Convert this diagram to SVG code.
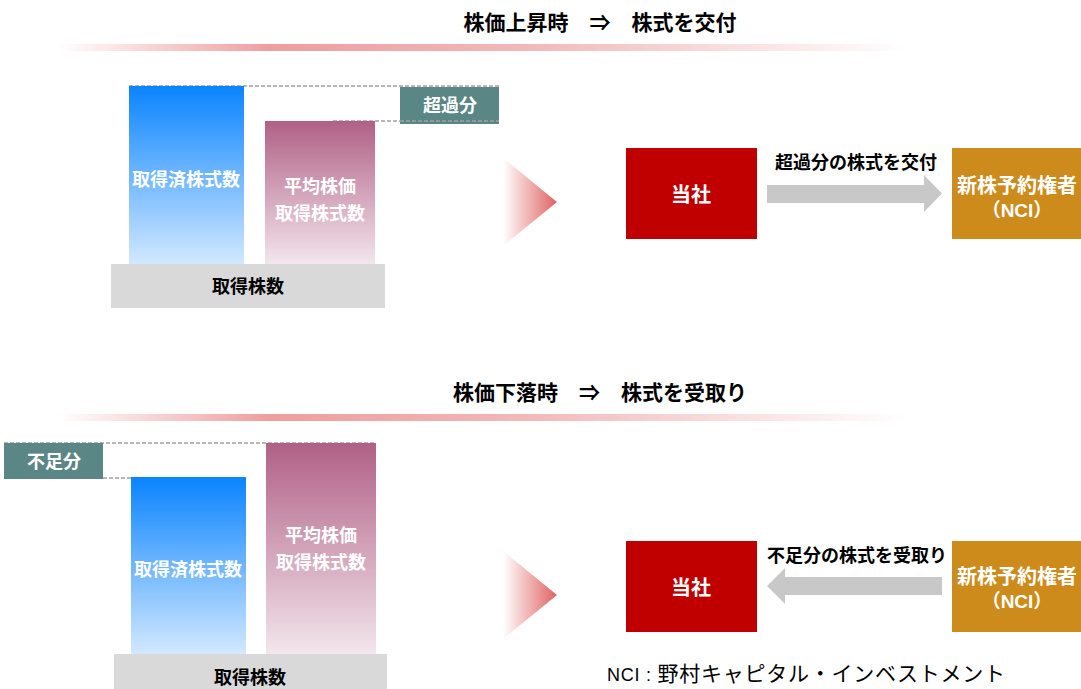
<svg xmlns="http://www.w3.org/2000/svg" width="1081" height="689" viewBox="0 0 1081 689">
<style>
.t{font-family:"Liberation Sans","Noto Sans CJK JP",sans-serif;font-weight:bold;text-anchor:middle;dominant-baseline:central}
.w{fill:#fff}
.k{fill:#000}
.dash{stroke:#a0a0a0;stroke-width:1.3;stroke-dasharray:4 2;fill:none}
.teal{fill:#5b8686}
.base{fill:#d9d9d9}
.red{fill:#c00000}
.gold{fill:#cd8b1c}
.garrow{fill:#c8c8c8}
</style>
<defs>
<linearGradient id="gBar" x1="0" y1="0" x2="1" y2="0">
<stop offset="0" stop-color="#ee9e9e" stop-opacity="0"/>
<stop offset="0.25" stop-color="#ee9e9e"/>
<stop offset="0.55" stop-color="#f2b8b8"/>
<stop offset="1" stop-color="#f2b8b8" stop-opacity="0"/>
</linearGradient>
<linearGradient id="gBlue" x1="0" y1="0" x2="0" y2="1">
<stop offset="0" stop-color="#0a84ff"/>
<stop offset="1" stop-color="#d2e8ff"/>
</linearGradient>
<linearGradient id="gPink" x1="0" y1="0" x2="0" y2="1">
<stop offset="0" stop-color="#b06085"/>
<stop offset="1" stop-color="#f3e6ec"/>
</linearGradient>
<linearGradient id="gChev" x1="0" y1="0" x2="1" y2="0">
<stop offset="0" stop-color="#e06262" stop-opacity="0"/>
<stop offset="1" stop-color="#e06262"/>
</linearGradient>
</defs>

<!-- top section -->
<g id="title-up">
<text class="t k" x="600" y="22" font-size="21">株価上昇時　⇒　株式を交付</text>
<rect x="58" y="44" width="850" height="7" fill="url(#gBar)"/>
</g>
<g id="up-bars">
<line class="dash" x1="129" y1="86" x2="499" y2="86"/>
<line class="dash" x1="333" y1="121" x2="499" y2="121"/>
<g id="up-acquired"><rect x="129" y="86" width="115" height="178" fill="url(#gBlue)"/>
<text class="t w" x="186" y="180" font-size="18">取得済株式数</text></g>
<g id="up-average"><rect x="265" y="121" width="110" height="143" fill="url(#gPink)"/>
<text class="t w" x="320" y="187" font-size="18">平均株価</text>
<text class="t w" x="320" y="214" font-size="18">取得株式数</text></g>
<g id="up-base"><rect class="base" x="111" y="264" width="274" height="44"/>
<text class="t k" x="248" y="287" font-size="18">取得株数</text></g>
<g id="up-excess"><rect class="teal" x="400" y="87" width="99" height="37"/>
<line class="dash" x1="400" y1="121" x2="499" y2="121"/>
<text class="t w" x="450" y="106" font-size="18">超過分</text></g>
</g>
<polygon id="up-chevron" points="503,158 557,202 503,246" fill="url(#gChev)"/>
<g id="up-company"><rect class="red" x="626" y="148" width="131" height="91"/>
<text class="t w" x="691" y="195" font-size="20">当社</text></g>
<g id="up-nci"><rect class="gold" x="952" y="148" width="129" height="91"/>
<text class="t w" x="1017" y="186" font-size="20">新株予約権者</text>
<text class="t w" x="1017" y="210" font-size="19">（NCI）</text></g>
<g id="up-connector">
<polygon class="garrow" points="767,185 924,185 924,175 942,193.5 924,212 924,203 767,203"/>
<text class="t k" x="856" y="163" font-size="18">超過分の株式を交付</text>
</g>

<!-- bottom section -->
<g id="title-down">
<text class="t k" x="600" y="392" font-size="21">株価下落時　⇒　株式を受取り</text>
<rect x="58" y="414" width="850" height="7" fill="url(#gBar)"/>
</g>
<g id="down-bars">
<line class="dash" x1="4" y1="443" x2="376" y2="443"/>
<line class="dash" x1="103" y1="478" x2="246" y2="478"/>
<g id="down-acquired"><rect x="131" y="477" width="115" height="177" fill="url(#gBlue)"/>
<text class="t w" x="188" y="570" font-size="18">取得済株式数</text></g>
<g id="down-average"><rect x="266" y="443" width="110" height="211" fill="url(#gPink)"/>
<text class="t w" x="321" y="536" font-size="18">平均株価</text>
<text class="t w" x="321" y="563" font-size="18">取得株式数</text></g>
<g id="down-base"><rect class="base" x="114" y="654" width="273" height="40"/>
<text class="t k" x="250" y="678" font-size="18">取得株数</text></g>
<g id="down-shortfall"><rect class="teal" x="4" y="443" width="99" height="36"/>
<text class="t w" x="54" y="462" font-size="18">不足分</text></g>
</g>
<polygon id="down-chevron" points="503,551 557,595 503,639" fill="url(#gChev)"/>
<g id="down-company"><rect class="red" x="626" y="541" width="131" height="91"/>
<text class="t w" x="691" y="588" font-size="20">当社</text></g>
<g id="down-nci"><rect class="gold" x="952" y="541" width="129" height="91"/>
<text class="t w" x="1017" y="577" font-size="20">新株予約権者</text>
<text class="t w" x="1017" y="601" font-size="19">（NCI）</text></g>
<g id="down-connector">
<polygon class="garrow" points="942,577 785,577 785,568 767,586 785,604 785,595 942,595"/>
<text class="t k" x="857" y="556" font-size="18">不足分の株式を受取り</text>
</g>

<text id="footer" x="607" y="681" textLength="398" lengthAdjust="spacing" style="font-family:'Liberation Sans','Noto Sans CJK JP',sans-serif" fill="#000"><tspan font-size="18">NCI : </tspan><tspan font-size="21">野村キャピタル・インベストメント</tspan></text>
</svg>
